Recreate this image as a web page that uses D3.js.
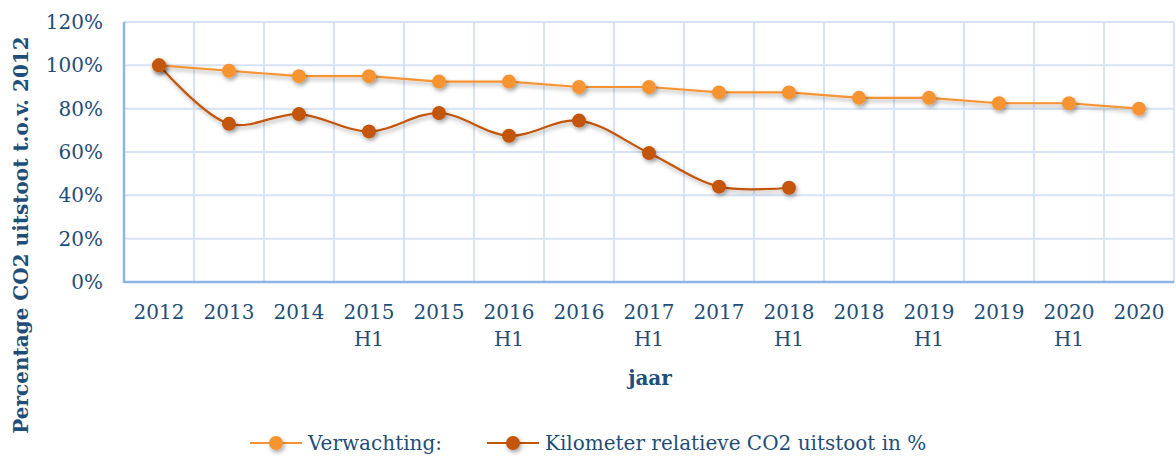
<!DOCTYPE html>
<html>
<head>
<meta charset="utf-8">
<script src="https://cdn.jsdelivr.net/npm/d3@7"></script>
<style>
  body { margin: 0; background: #fff; }
  text { font-family: "DejaVu Serif", serif; fill: #1F4E79; }
</style>
</head>
<body>
<svg id="chart" width="1176" height="456"></svg>
<script>
// categories (two-line labels)
var categories = ["2012", "2013", "2014", "2015 H1", "2015", "2016 H1", "2016", "2017 H1",
                  "2017", "2018 H1", "2018", "2019 H1", "2019", "2020 H1", "2020"];
// Verwachting (%)
var verwachting = [100, 97.5, 95, 95, 92.5, 92.5, 90, 90, 87.5, 87.5, 85, 85, 82.5, 82.5, 80];
// Kilometer relatieve CO2 uitstoot in %
var kilometer = [100, 73, 77.5, 69.5, 78, 67.5, 74.5, 59.5, 44, 43.5];
var yTicks = [0, 20, 40, 60, 80, 100, 120];

var svg = d3.select("#chart");
var plotLeft = 124, plotRight = 1174, plotTop = 22, plotBottom = 282;

// shadow filter
var defs = svg.append("defs");
var f = defs.append("filter").attr("id", "shadow").attr("x", "-50%").attr("y", "-50%").attr("width", "200%").attr("height", "200%");
f.append("feDropShadow").attr("dx", 1.5).attr("dy", 2.5).attr("stdDeviation", 2).attr("flood-color", "#000").attr("flood-opacity", 0.35);

var x = d3.scaleBand().domain(categories).range([plotLeft, plotRight]);
var y = d3.scaleLinear().domain([0, 120]).range([plotBottom, plotTop]);

// grid
var grid = svg.append("g");
grid.selectAll(".hg").data(yTicks).enter().append("line")
  .attr("x1", plotLeft).attr("x2", plotRight)
  .attr("y1", function(d){ return y(d); }).attr("y2", function(d){ return y(d); })
  .attr("stroke", "#D6E3F4").attr("stroke-width", 2);
grid.selectAll(".vg").data(categories).enter().append("line")
  .attr("x1", function(d){ return x(d) + x.step(); })
  .attr("x2", function(d){ return x(d) + x.step(); })
  .attr("y1", plotTop).attr("y2", plotBottom)
  .attr("stroke", "#D6E3F4").attr("stroke-width", 2);

// axes lines
svg.append("line").attr("x1", plotLeft).attr("x2", plotLeft).attr("y1", plotTop).attr("y2", plotBottom + 1)
  .attr("stroke", "#8FB5E5").attr("stroke-width", 2.5);
svg.append("line").attr("x1", plotLeft).attr("x2", plotRight).attr("y1", plotBottom).attr("y2", plotBottom)
  .attr("stroke", "#8FB5E5").attr("stroke-width", 2.5);

// y axis labels
var yAxis = d3.axisLeft(y).tickValues(yTicks).tickSize(0).tickPadding(0)
  .tickFormat(function(d){ return d + "%"; });
var gy = svg.append("g").attr("transform", "translate(103,0)").call(yAxis);
gy.select(".domain").remove();
gy.selectAll("text").attr("font-size", 20).attr("fill", "#1F4E79")
  .style("font-family", "DejaVu Serif, serif");

// x axis labels
var xAxis = d3.axisBottom(x).tickSize(0).tickPadding(0).tickFormat("");
var gx = svg.append("g").attr("transform", "translate(0," + plotBottom + ")").call(xAxis);
gx.select(".domain").remove();
gx.selectAll(".tick").each(function(d){
  var parts = d.split(" ");
  var t = d3.select(this).append("text").attr("text-anchor", "middle").attr("font-size", 20);
  parts.forEach(function(p, i){
    t.append("tspan").attr("x", 0).attr("y", 37 + i * 27).text(p);
  });
});

// axis titles
svg.append("text").attr("x", 650).attr("y", 385).attr("text-anchor", "middle")
  .attr("font-size", 20).attr("font-weight", "bold").text("jaar");
svg.append("text").attr("transform", "translate(28,235) rotate(-90)").attr("text-anchor", "middle")
  .attr("font-size", 20).attr("font-weight", "bold").text("Percentage CO2 uitstoot t.o.v. 2012");

var cx = function(d, i){ return x(categories[i]) + x.bandwidth() / 2; };
var orange = "#F79433", dark = "#C35508";

// Verwachting (straight)
var line1 = d3.line().x(cx).y(function(d){ return y(d); });
svg.append("path").datum(verwachting).attr("d", line1).attr("fill", "none")
  .attr("stroke", orange).attr("stroke-width", 2.2).attr("filter", "url(#shadow)");
// Kilometer (smoothed)
var line2 = d3.line().x(cx).y(function(d){ return y(d); }).curve(d3.curveCatmullRom.alpha(0.5));
svg.append("path").datum(kilometer).attr("d", line2).attr("fill", "none")
  .attr("stroke", dark).attr("stroke-width", 2.2).attr("filter", "url(#shadow)");

svg.append("g").selectAll("circle").data(verwachting).enter().append("circle")
  .attr("cx", cx).attr("cy", function(d){ return y(d); }).attr("r", 7)
  .attr("fill", orange).attr("filter", "url(#shadow)");
svg.append("g").selectAll("circle").data(kilometer).enter().append("circle")
  .attr("cx", cx).attr("cy", function(d){ return y(d); }).attr("r", 7)
  .attr("fill", dark).attr("filter", "url(#shadow)");

// legend
var legend = [
  {name: "Verwachting:", color: orange, x: 250},
  {name: "Kilometer relatieve CO2 uitstoot in %", color: dark, x: 487}
];
var lg = svg.append("g").selectAll("g").data(legend).enter().append("g")
  .attr("transform", function(d){ return "translate(" + d.x + ",443)"; });
lg.append("line").attr("x1", 0).attr("x2", 52).attr("y1", 0).attr("y2", 0)
  .attr("stroke", function(d){ return d.color; }).attr("stroke-width", 2.2);
lg.append("circle").attr("cx", 26).attr("cy", 0).attr("r", 7)
  .attr("fill", function(d){ return d.color; }).attr("filter", "url(#shadow)");
lg.append("text").attr("x", 58).attr("y", 7).attr("font-size", 20)
  .text(function(d){ return d.name; });
</script>
</body>
</html>
